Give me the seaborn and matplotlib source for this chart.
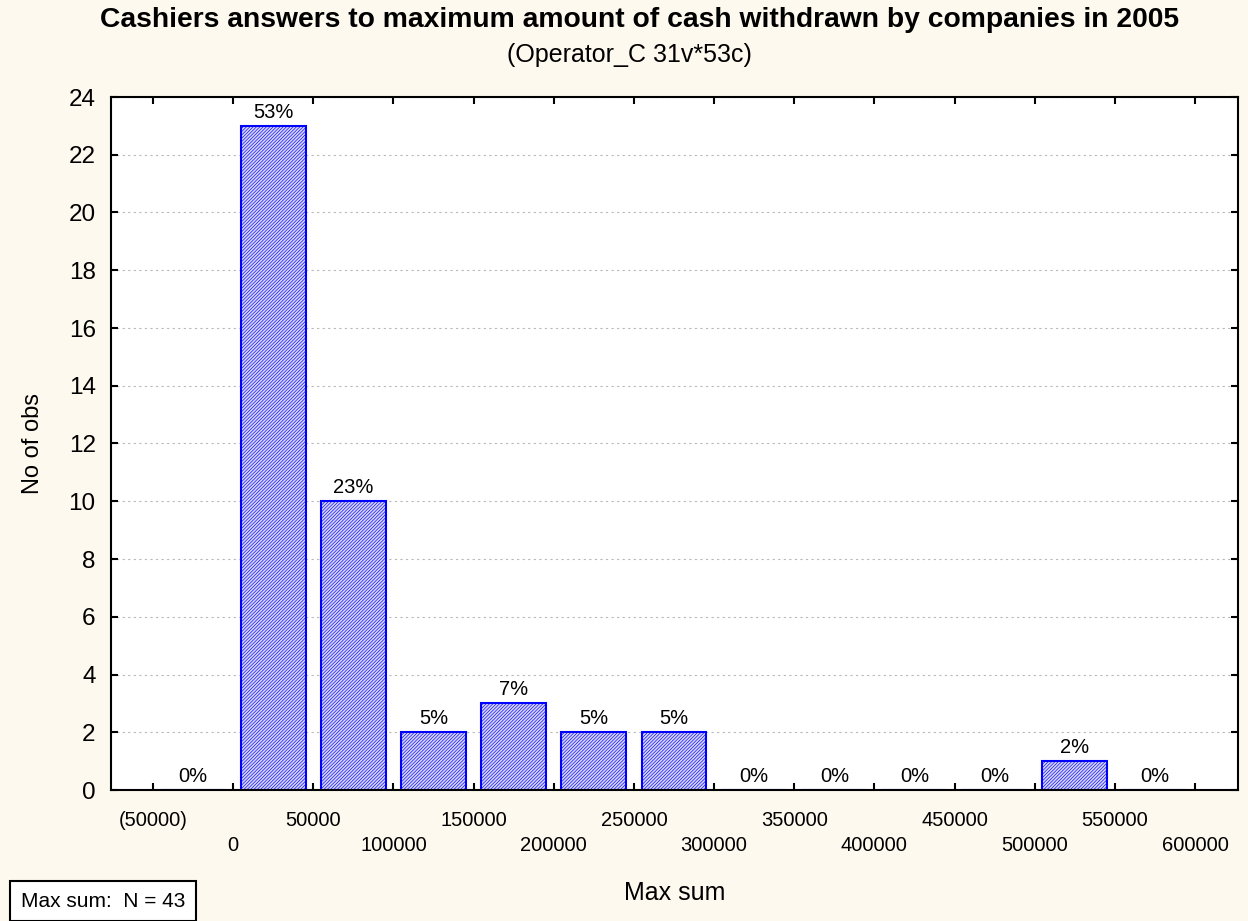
import numpy as np
import pandas as pd
import matplotlib
matplotlib.use("Agg")
import matplotlib.pyplot as plt
import seaborn as sns

# ---- data ----
bin_edges = [-50000, 0, 50000, 100000, 150000, 200000, 250000, 300000,
             350000, 400000, 450000, 500000, 550000, 600000]
counts = [0, 23, 10, 2, 3, 2, 2, 0, 0, 0, 0, 1, 0]
bin_labels = [f"{bin_edges[i]}-{bin_edges[i+1]}" for i in range(len(counts))]
edge_labels = [f"({-v})" if v < 0 else str(v) for v in bin_edges]
y_ticks = list(range(0, 25, 2))
title = "Cashiers answers to maximum amount of cash withdrawn by companies in 2005"
subtitle = "(Operator_C 31v*53c)"
x_label = "Max sum"
y_label = "No of obs"
var_name = "Max sum"

N = sum(counts)
df = pd.DataFrame({"bin": bin_labels, "count": counts})

sns.set_theme(style="white")
plt.rcParams["font.family"] = ["Liberation Sans", "DejaVu Sans"]
plt.rcParams["hatch.linewidth"] = 0.45
plt.rcParams["text.color"] = "black"
plt.rcParams["axes.labelcolor"] = "black"
plt.rcParams["xtick.color"] = "black"
plt.rcParams["ytick.color"] = "black"

BG = "#fdf9ee"
fig = plt.figure(figsize=(12.48, 9.21), dpi=100, facecolor=BG)
ax = fig.add_axes([111 / 1248, 1 - 790 / 921, 1127 / 1248, 693 / 921])
ax.set_facecolor("white")

sns.barplot(data=df, x="bin", y="count", order=bin_labels, ax=ax,
            color="#d4d4f8", saturation=1, width=0.81,
            edgecolor="#0000ff", linewidth=1.5, hatch="/" * 10, zorder=2)

# percent labels
for i, c in enumerate(counts):
    pct = int(round(100 * c / N))
    ax.annotate(f"{pct}%", (i, c), xytext=(0, 3), textcoords="offset points",
                ha="center", va="bottom", fontsize=14.5, color="black")

ax.set_ylim(0, 24)
ax.set_yticks(y_ticks)
ax.set_xlim(-1.024, 13.036)

pos = np.arange(len(bin_edges)) - 0.5
ax.set_xticks(pos[0::2], edge_labels[0::2])
ax.set_xticks(pos[1::2], edge_labels[1::2], minor=True)
ax.tick_params(axis="x", which="major", direction="in", length=5, width=1.5,
               pad=15, labelsize=14.5, top=True, bottom=True, colors="black")
ax.tick_params(axis="x", which="minor", direction="in", length=5, width=1.5,
               pad=33, labelsize=14.5, top=True, bottom=True, colors="black")
ax.tick_params(axis="y", which="major", direction="in", length=5, width=1.5,
               pad=11, labelsize=17.5, left=True, right=True, colors="black")

ax.yaxis.grid(True, linestyle=(0, (2, 3)), color="#b8b8b8", linewidth=0.8)
ax.xaxis.grid(False)
ax.set_axisbelow(True)

for s in ax.spines.values():
    s.set_visible(True)
    s.set_color("black")
    s.set_linewidth(1.5)

ax.set_xlabel(x_label, fontsize=18, color="black")
ax.xaxis.set_label_coords(0.5, -(893 - 790) / 693)
ax.xaxis.label.set_verticalalignment("center")
ax.set_ylabel(y_label, fontsize=17, color="black")
ax.yaxis.set_label_coords(-(111 - 33) / 1127, 0.5)
ax.yaxis.label.set_verticalalignment("center")
ax.yaxis.label.set_horizontalalignment("center")

fig.text(640 / 1248, 1 - 20 / 921, title, ha="center", va="center",
         fontsize=20.3, fontweight="bold", color="black")
fig.text(629 / 1248, 1 - 55 / 921, subtitle, ha="center", va="center",
         fontsize=18, color="black")

fig.text(103 / 1248, 1 - 901 / 921, f"{var_name}:  N = {N}", ha="center",
         va="center", fontsize=15, color="black",
         bbox=dict(boxstyle="square,pad=0.5", facecolor="white",
                   edgecolor="black", linewidth=1.5))

fig.savefig("out.png", dpi=100, facecolor=BG)
